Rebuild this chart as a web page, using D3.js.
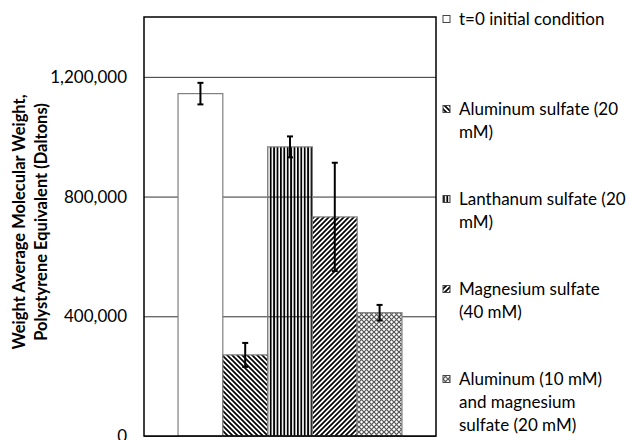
<!DOCTYPE html>
<meta charset="utf-8">
<script src="https://d3js.org/d3.v7.min.js"></script>
<style>
  body { margin: 0; background: #fff; }
  text { font-family: Lato, "Open Sans", sans-serif; }
</style>
<div id="chart"></div>
<script>
// data
const series = ["t0", "alSulfate", "laSulfate", "mgSulfate", "alMg"];
const values = [1144000, 271000, 966000, 732000, 412000];
const errors = [36000, 40000, 35000, 181000, 26000];
const fills = ["white", "url(#diagDown)", "url(#vert)", "url(#diagUp)", "url(#cross)"];
const legendLines = [
  ["t=0 initial condition"],
  ["Aluminum sulfate (20", "mM)"],
  ["Lanthanum sulfate (20", "mM)"],
  ["Magnesium sulfate", "(40 mM)"],
  ["Aluminum (10 mM)", "and magnesium", "sulfate (20 mM)"]
];
const yTicks = [0, 400000, 800000, 1200000];
const yTitle = ["Weight Average Molecular Weight,", "Polystyrene Equivalent (Daltons)"];

const W = 629, H = 440;
const margin = {top: 17, right: 193, bottom: 4, left: 144},
  width = W - margin.left - margin.right,
  height = H - margin.top - margin.bottom;

const svgRoot = d3.select("#chart").append("svg")
  .attr("width", W).attr("height", H);

// fill patterns
const defs = svgRoot.append("defs");
defs.append("pattern").attr("id", "vert")
  .attr("patternUnits", "userSpaceOnUse").attr("width", 3.4).attr("height", 4)
  .append("rect").attr("width", 1.8).attr("height", 4).attr("fill", "#000");

const dd = defs.append("pattern").attr("id", "diagDown")
  .attr("patternUnits", "userSpaceOnUse").attr("width", 5).attr("height", 5);
dd.append("rect").attr("width", 5).attr("height", 5).attr("fill", "#fff");
dd.append("path").attr("d", "M-1,-1L6,6M-1,4L1,6M4,-1L6,1")
  .attr("stroke", "#000").attr("stroke-width", 1.7);

const du = defs.append("pattern").attr("id", "diagUp")
  .attr("patternUnits", "userSpaceOnUse").attr("width", 5).attr("height", 5);
du.append("rect").attr("width", 5).attr("height", 5).attr("fill", "#fff");
du.append("path").attr("d", "M-1,6L6,-1M-1,1L1,-1M4,6L6,4")
  .attr("stroke", "#000").attr("stroke-width", 1.7);

const cr = defs.append("pattern").attr("id", "cross")
  .attr("patternUnits", "userSpaceOnUse").attr("width", 5).attr("height", 5);
cr.append("rect").attr("width", 5).attr("height", 5).attr("fill", "#fff");
cr.append("path").attr("d", "M-1,-1L6,6M-1,6L6,-1")
  .attr("stroke", "#555").attr("stroke-width", 1.2);

const svg = svgRoot.append("g")
  .attr("transform", `translate(${margin.left},${margin.top})`);

// scales
const x = d3.scaleBand()
  .domain(series)
  .range([0, width])
  .paddingInner(0)
  .paddingOuter(0.76);

const y = d3.scaleLinear()
  .domain([0, 1400000])
  .range([height, 0]);

// gridlines + labels
const yAxis = svg.append("g")
  .call(d3.axisLeft(y).tickValues(yTicks).tickSize(-width).tickPadding(17)
    .tickFormat(d3.format(",")));
yAxis.select(".domain").remove();
yAxis.selectAll(".tick line").attr("stroke", "#333").attr("stroke-width", 1);
yAxis.selectAll(".tick text").attr("font-size", 17).attr("fill", "#000");

// bars
svg.selectAll(".bar")
  .data(series)
  .join("rect")
    .attr("class", "bar")
    .attr("x", d => x(d))
    .attr("y", (d, i) => y(values[i]))
    .attr("width", x.bandwidth())
    .attr("height", (d, i) => height - y(values[i]))
    .attr("fill", (d, i) => fills[i])
    .attr("stroke", "#7f7f7f")
    .attr("stroke-width", 1.2);

// error bars
const eb = svg.selectAll(".err")
  .data(series)
  .join("g")
    .attr("class", "err")
    .attr("transform", d => `translate(${x(d) + x.bandwidth() / 2},0)`)
    .attr("stroke", "#000").attr("stroke-width", 2);
eb.append("line")
  .attr("y1", (d, i) => y(values[i] + errors[i]))
  .attr("y2", (d, i) => y(values[i] - errors[i]));
eb.append("line").attr("x1", -3).attr("x2", 3)
  .attr("y1", (d, i) => y(values[i] + errors[i]))
  .attr("y2", (d, i) => y(values[i] + errors[i]));
eb.append("line").attr("x1", -3).attr("x2", 3)
  .attr("y1", (d, i) => y(values[i] - errors[i]))
  .attr("y2", (d, i) => y(values[i] - errors[i]));

// plot frame
svg.append("rect")
  .attr("width", width).attr("height", height)
  .attr("fill", "none").attr("stroke", "#000").attr("stroke-width", 1.5);

// y title
const yt = svgRoot.append("text")
  .attr("transform", `translate(19,222) rotate(-90)`)
  .attr("text-anchor", "middle")
  .attr("font-weight", "bold")
  .attr("font-size", 16.5)
  .attr("fill", "#000");
yt.selectAll("tspan")
  .data(yTitle)
  .join("tspan")
    .attr("x", 0)
    .attr("dy", (d, i) => i === 0 ? "0.35em" : 22)
    .text(d => d);

// legend
const leg = svgRoot.selectAll(".leg")
  .data(series)
  .join("g")
    .attr("class", "leg")
    .attr("transform", (d, i) => `translate(443,${19 + i * 90})`);
leg.append("rect")
  .attr("x", 0).attr("y", -3.5)
  .attr("width", 7).attr("height", 7)
  .attr("fill", (d, i) => fills[i])
  .attr("stroke", "#444").attr("stroke-width", 1);
leg.append("text")
  .attr("x", 16)
  .attr("font-size", 17)
  .attr("fill", "#000")
  .selectAll("tspan")
  .data((d, i) => legendLines[i])
  .join("tspan")
    .attr("x", 16)
    .attr("dy", (d, j) => j === 0 ? "0.35em" : 23)
    .text(d => d);
</script>
